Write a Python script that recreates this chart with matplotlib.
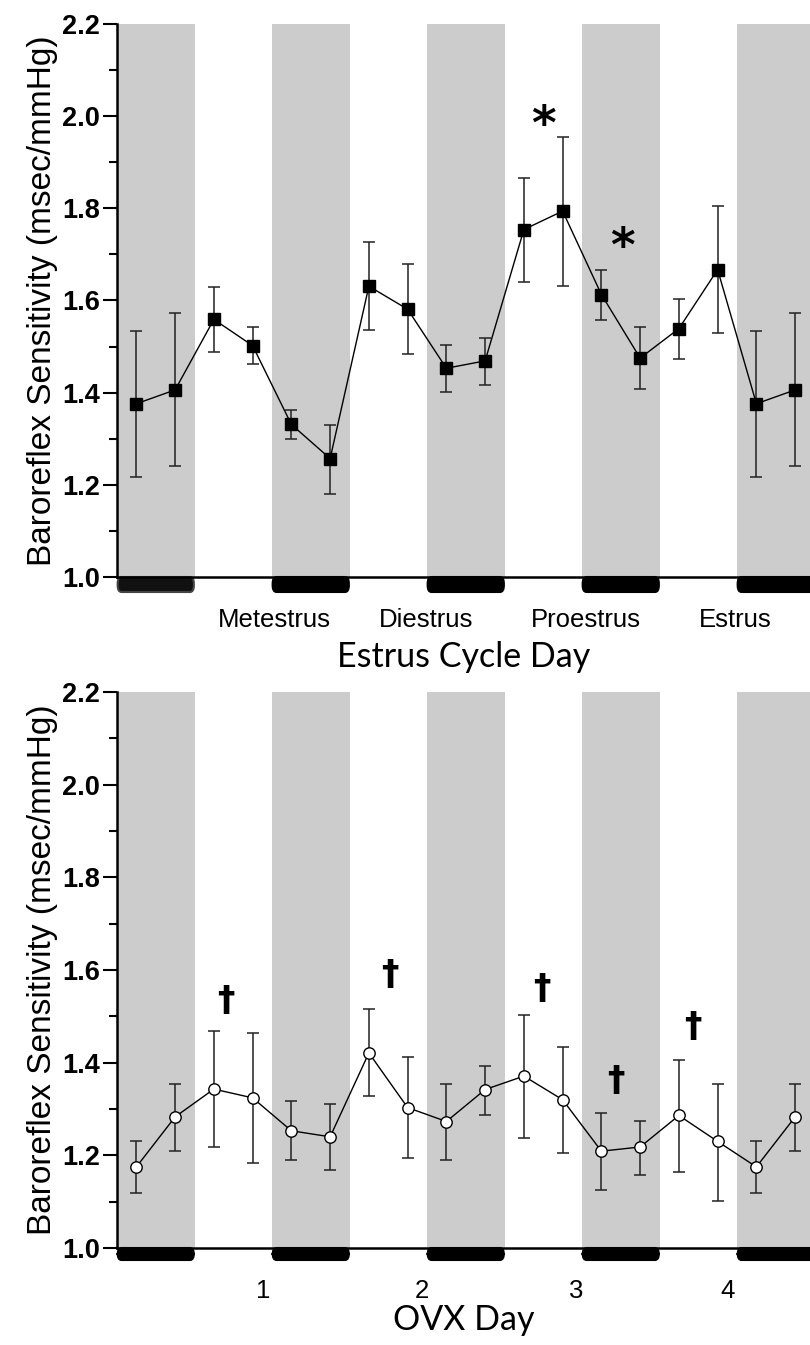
import matplotlib
matplotlib.use("Agg")
import matplotlib.pyplot as plt
from matplotlib.patches import FancyBboxPatch
from matplotlib.transforms import blended_transform_factory
from matplotlib.ticker import MultipleLocator

# ---------------- data ----------------
hours = [3, 9, 15, 21, 27, 33, 39, 45, 51, 57, 63, 69, 75, 81, 87, 93, 99, 105]

estrus_mean = [1.376, 1.406, 1.559, 1.502, 1.331, 1.257, 1.631, 1.581, 1.453,
               1.469, 1.754, 1.794, 1.613, 1.475, 1.539, 1.667, 1.376, 1.406]
estrus_upper = [1.534, 1.572, 1.629, 1.542, 1.363, 1.330, 1.727, 1.679, 1.503,
                1.519, 1.866, 1.954, 1.667, 1.542, 1.604, 1.804, 1.534, 1.572]
estrus_lower = [1.216, 1.240, 1.489, 1.463, 1.299, 1.181, 1.536, 1.483, 1.401,
                1.417, 1.640, 1.632, 1.558, 1.408, 1.474, 1.529, 1.216, 1.240]

ovx_mean = [1.175, 1.283, 1.343, 1.324, 1.253, 1.240, 1.421, 1.303, 1.273,
            1.342, 1.371, 1.320, 1.209, 1.218, 1.286, 1.230, 1.175, 1.283]
ovx_upper = [1.231, 1.354, 1.468, 1.465, 1.317, 1.311, 1.515, 1.412, 1.353,
             1.393, 1.503, 1.433, 1.291, 1.275, 1.405, 1.354, 1.231, 1.354]
ovx_lower = [1.118, 1.209, 1.219, 1.183, 1.191, 1.169, 1.329, 1.194, 1.191,
             1.288, 1.238, 1.205, 1.126, 1.158, 1.165, 1.102, 1.118, 1.209]

dark_starts = [0, 24, 48, 72, 96]
dark_length = 12

estrus_tick_pos = [24.3, 47.8, 72.6, 95.8]
estrus_tick_labels = ["Metestrus", "Diestrus", "Proestrus", "Estrus"]
ovx_tick_pos = [22.6, 47.2, 71.1, 94.5]
ovx_tick_labels = ["1", "2", "3", "4"]

asterisk_x = [66.0, 78.3]
asterisk_y = [1.978, 1.713]
dagger_x = [16.9, 42.2, 65.7, 77.2, 89.1]
dagger_y = [1.533, 1.589, 1.559, 1.361, 1.477]

ylabel = "Baroreflex Sensitivity (msec/mmHg)"

# ---------------- figure ----------------
W, H = 810, 1345
fig = plt.figure(figsize=(W / 100, H / 100), dpi=100)

def px_axes(left, top, right, bottom):
    return fig.add_axes([left / W, 1 - bottom / H, (right - left) / W, (bottom - top) / H])

ax1 = px_axes(117, 24, 810, 577)
ax2 = px_axes(117, 692, 810, 1248)

GRAY = "#cccccc"

def style_axis(ax, tick_pos, tick_labels, xlabel, bar_px, first_outline, xlabelpad):
    ax.set_xlim(0, 107.3)
    ax.set_ylim(1.0, 2.2)
    for s in dark_starts:
        ax.axvspan(s, s + dark_length, color=GRAY, lw=0, zorder=0)
    for sp in ["top", "right"]:
        ax.spines[sp].set_visible(False)
    for sp in ["left", "bottom"]:
        ax.spines[sp].set_linewidth(1.8)
        ax.spines[sp].set_zorder(5)
    ax.yaxis.set_major_locator(MultipleLocator(0.2))
    ax.yaxis.set_minor_locator(MultipleLocator(0.1))
    ax.tick_params(axis="y", which="major", length=10, width=1.5, direction="out", pad=2)
    ax.tick_params(axis="y", which="minor", length=6, width=1.5, direction="out")
    ax.set_yticks([1.0, 1.2, 1.4, 1.6, 1.8, 2.0, 2.2])
    ax.set_yticklabels(["1.0", "1.2", "1.4", "1.6", "1.8", "2.0", "2.2"],
                       fontfamily="Liberation Sans", fontweight="bold", fontsize=19.5)
    ax.set_xticks(tick_pos)
    ax.set_xticklabels(tick_labels, fontfamily="Liberation Sans", fontsize=18.5)
    ax.tick_params(axis="x", length=0, pad=22)
    ax.set_xlabel(xlabel, fontfamily="Lato", fontsize=24.5, labelpad=xlabelpad)
    ax.set_ylabel(ylabel, fontfamily="Liberation Sans", fontsize=24, labelpad=3)
    # black night bars beneath the axis
    trans = blended_transform_factory(ax.transData, ax.transAxes)
    axh = ax.get_position().height * H
    bh = bar_px / axh
    for i, s in enumerate(dark_starts):
        ec = "#444444" if (first_outline and i == 0) else "black"
        fc = "#111111" if (first_outline and i == 0) else "black"
        p = FancyBboxPatch((s + 0.1, -bh), dark_length - 0.2, bh,
                           boxstyle="round,pad=0,rounding_size=0.6",
                           transform=trans, clip_on=False, fc=fc, ec=ec,
                           lw=1.5, zorder=4, mutation_aspect=0.02)
        ax.add_patch(p)

style_axis(ax1, estrus_tick_pos, estrus_tick_labels, "Estrus Cycle Day", 15, True, 7)
style_axis(ax2, ovx_tick_pos, ovx_tick_labels, "OVX Day", 12, False, 1)

# top series
yerr1 = [[m - l for m, l in zip(estrus_mean, estrus_lower)],
         [u - m for m, u in zip(estrus_mean, estrus_upper)]]
ax1.errorbar(hours, estrus_mean, yerr=yerr1, fmt="none", ecolor="#222222",
             elinewidth=1.1, capsize=4.3, capthick=1.1, zorder=2)
ax1.plot(hours, estrus_mean, color="black", lw=1.0, marker="s", markersize=8.6,
         markerfacecolor="black", markeredgecolor="black", zorder=3)

# bottom series
yerr2 = [[m - l for m, l in zip(ovx_mean, ovx_lower)],
         [u - m for m, u in zip(ovx_mean, ovx_upper)]]
ax2.errorbar(hours, ovx_mean, yerr=yerr2, fmt="none", ecolor="#222222",
             elinewidth=1.1, capsize=4.3, capthick=1.1, zorder=2)
ax2.plot(hours, ovx_mean, color="black", lw=1.0, marker="o", markersize=8.2,
         markerfacecolor="white", markeredgecolor="black", markeredgewidth=1.0, zorder=3)

for x, y in zip(asterisk_x, asterisk_y):
    ax1.text(x, y, "*", fontsize=34, fontweight="bold", fontfamily="DejaVu Sans",
             ha="center", va="center", zorder=6)
for x, y in zip(dagger_x, dagger_y):
    ax2.text(x, y, "\u2020", fontsize=25, fontweight="bold", fontfamily="DejaVu Sans",
             ha="center", va="center", zorder=6)

fig.savefig("out.png", dpi=100)
